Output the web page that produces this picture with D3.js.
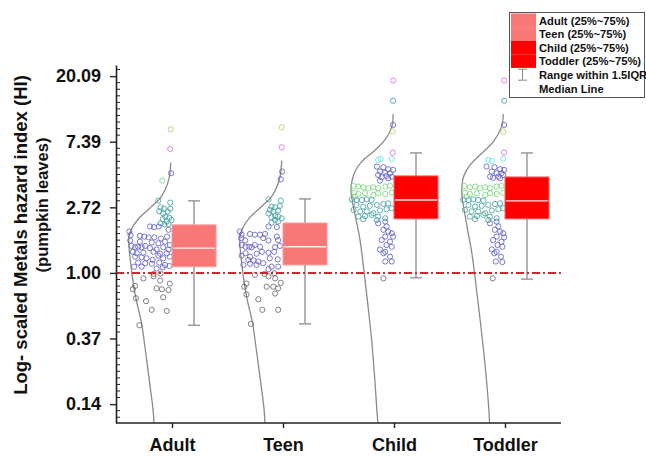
<!DOCTYPE html>
<html><head><meta charset="utf-8">
<script src="https://cdn.jsdelivr.net/npm/d3@7"></script>
<style>body{margin:0;background:#fff;} svg{display:block;font-family:"Liberation Sans",Arial,sans-serif;}</style>
</head><body><svg id="chart" width="646" height="457"></svg>
<script>
// ---------------- DATA ----------------
const categories = ["Adult", "Teen", "Child", "Toddler"];
const q1 = [1.10, 1.13, 2.28, 2.28];
const median = [1.46, 1.49, 3.04, 3.00];
const q3 = [2.08, 2.14, 4.39, 4.32];
const whiskerLow = [0.45, 0.46, 0.93, 0.91];
const whiskerHigh = [3.00, 3.09, 6.23, 6.23];
const yTickExponents = [-2, -1, 0, 1, 2, 3];
const yTickLabels = ["0.14", "0.37", "1.00", "2.72", "7.39", "20.09"];
const referenceValue = 1.0;
const legendLabels = ["Adult (25%~75%)", "Teen (25%~75%)", "Child (25%~75%)", "Toddler (25%~75%)", "Range within 1.5IQR", "Median Line"];
const yTitleLines = ["Log- scaled Metals hazard index (HI)", "(pumpkin leaves)"];

// distribution curves: [value, relative density]
const adultDensity = [[5.37,0.03],[4.13,0.077],[3.20,0.25],[2.68,0.52],[2.30,0.77],[1.98,0.93],[1.74,1.0],[1.49,1.0],[1.22,0.97],[0.855,0.90],[0.66,0.83],[0.467,0.71],[0.309,0.62],[0.187,0.52],[0.124,0.44],[0.1015,0.42]];
const teenDensity = [[5.54,0.03],[4.20,0.08],[3.25,0.25],[2.72,0.52],[2.33,0.77],[2.00,0.93],[1.76,1.0],[1.50,1.0],[1.23,0.97],[0.86,0.90],[0.66,0.83],[0.47,0.71],[0.31,0.62],[0.19,0.52],[0.125,0.44],[0.1015,0.42]];
const childDensity = [[11.29,0.02],[9.30,0.05],[7.59,0.21],[6.35,0.48],[5.46,0.75],[4.68,0.91],[4.02,0.98],[3.54,1.0],[2.89,0.96],[2.24,0.88],[1.65,0.79],[1.10,0.71],[0.66,0.62],[0.36,0.52],[0.186,0.44],[0.106,0.38],[0.1015,0.37]];
const toddlerDensity = [[11.29,0.04],[9.30,0.08],[7.40,0.27],[6.20,0.54],[5.19,0.81],[4.45,0.95],[3.82,1.0],[3.20,1.0],[2.61,0.95],[1.93,0.87],[1.35,0.77],[0.81,0.67],[0.44,0.56],[0.24,0.46],[0.13,0.38],[0.1015,0.36]];

// individual samples: [value, jitter (-1..0 of scatter band), colour group]
const adultPoints = [[8.94,-0.03,"y"],[6.62,-0.04,"m"],[4.57,-0.02,"b"],[4.08,-0.22,"G"],[3.01,-0.31,"t"],[2.92,-0.04,"t"],[2.72,-0.26,"t"],[2.66,-0.18,"t"],[2.56,-0.29,"t"],[2.48,-0.20,"t"],[2.55,-0.10,"t"],[2.66,-0.04,"t"],[2.36,-0.15,"t"],[2.32,-0.06,"t"],[2.24,-0.01,"t"],[2.27,-0.21,"t"],[2.19,-0.12,"t"],[2.13,-0.26,"t"],[2.10,-0.17,"t"],[2.11,-0.08,"t"],
[2.03,-0.50,"b"],[2.01,-0.41,"b"],[2.03,-0.30,"b"],[1.93,-0.08,"b"],[1.88,-0.97,"b"],[1.78,-0.94,"b"],[1.76,-0.73,"b"],[1.74,-0.63,"b"],[1.72,-0.53,"b"],[1.72,-0.40,"b"],[1.69,-0.25,"b"],[1.74,-0.11,"b"],[1.64,-0.95,"b"],[1.61,-0.73,"b"],[1.59,-0.46,"b"],[1.57,-0.31,"b"],[1.61,-0.16,"b"],[1.53,-0.05,"b"],[1.51,-0.92,"b"],[1.48,-0.84,"b"],[1.49,-0.77,"b"],[1.48,-0.69,"b"],[1.51,-0.61,"b"],[1.46,-0.50,"b"],[1.43,-0.35,"b"],[1.48,-0.20,"b"],[1.43,-0.08,"b"],[1.38,-0.89,"b"],[1.35,-0.80,"b"],[1.36,-0.65,"b"],[1.38,-0.42,"b"],[1.34,-0.27,"b"],[1.35,-0.12,"b"],[1.28,-0.84,"b"],[1.27,-0.69,"b"],[1.25,-0.58,"b"],[1.22,-0.44,"b"],[1.30,-0.31,"b"],[1.25,-0.20,"b"],[1.28,-0.05,"b"],[1.17,-0.77,"b"],[1.16,-0.61,"b"],[1.15,-0.46,"b"],[1.17,-0.29,"b"],[1.13,-0.16,"b"],[1.10,-0.86,"b"],[1.10,-0.69,"b"],[1.07,-0.35,"b"],[1.09,-0.21,"b"],[1.11,-0.06,"b"],
[0.985,-0.42,"g"],[0.99,-0.26,"g"],[0.92,-0.65,"g"],[0.95,-0.42,"g"],[0.89,-0.27,"g"],[0.85,-0.05,"g"],[0.82,-0.84,"g"],[0.78,-0.89,"g"],[0.79,-0.35,"g"],[0.78,-0.23,"g"],[0.77,-0.08,"g"],[0.68,-0.82,"g"],[0.69,-0.20,"g"],[0.65,-0.59,"g"],[0.57,-0.46,"g"],[0.56,-0.12,"g"],[0.45,-0.74,"g"]];

const teenPoints = [[9.21,-0.03,"y"],[6.79,-0.03,"m"],[4.69,-0.02,"b"],[4.17,-0.05,"b"],[3.07,-0.33,"t"],[3.01,-0.05,"t"],[2.75,-0.26,"t"],[2.72,-0.18,"t"],[2.78,-0.07,"t"],[2.61,-0.30,"t"],[2.55,-0.22,"t"],[2.59,-0.11,"t"],[2.48,-0.33,"t"],[2.38,-0.18,"t"],[2.34,-0.26,"t"],[2.36,-0.11,"t"],[2.30,-0.03,"t"],[2.24,-0.18,"t"],[2.19,-0.11,"t"],[2.15,-0.26,"t"],
[2.03,-0.33,"b"],[2.01,-0.14,"b"],[1.88,-0.98,"b"],[1.79,-0.94,"b"],[1.81,-0.75,"b"],[1.79,-0.64,"b"],[1.79,-0.52,"b"],[1.81,-0.41,"b"],[1.74,-0.14,"b"],[1.70,-0.95,"b"],[1.64,-0.86,"b"],[1.70,-0.45,"b"],[1.64,-0.33,"b"],[1.65,-0.11,"b"],[1.53,-0.94,"b"],[1.49,-0.85,"b"],[1.49,-0.77,"b"],[1.48,-0.71,"b"],[1.53,-0.64,"b"],[1.49,-0.52,"b"],[1.48,-0.18,"b"],[1.51,-0.07,"b"],[1.30,-0.94,"b"],[1.35,-0.85,"b"],[1.28,-0.75,"b"],[1.34,-0.60,"b"],[1.38,-0.48,"b"],[1.36,-0.33,"b"],[1.38,-0.20,"b"],[1.22,-0.79,"b"],[1.21,-0.67,"b"],[1.19,-0.56,"b"],[1.16,-0.45,"b"],[1.25,-0.30,"b"],[1.23,-0.12,"b"],[1.13,-0.90,"b"],[1.15,-0.75,"b"],[1.13,-0.60,"b"],[1.10,-0.26,"b"],[1.10,-0.11,"b"],[1.06,-0.33,"b"],
[0.97,-0.64,"g"],[0.985,-0.42,"g"],[0.995,-0.20,"g"],[0.95,-0.33,"g"],[0.92,-0.18,"g"],[0.86,-0.05,"g"],[0.85,-0.83,"g"],[0.81,-0.88,"g"],[0.81,-0.37,"g"],[0.81,-0.22,"g"],[0.79,-0.11,"g"],[0.72,-0.83,"g"],[0.73,-0.18,"g"],[0.67,-0.56,"g"],[0.57,-0.47,"g"],[0.57,-0.11,"g"],[0.46,-0.73,"g"]];

const childPoints = [[18.8,-0.02,"m"],[13.8,-0.02,"t"],[9.55,-0.02,"b"],[8.62,-0.03,"y"],[6.26,-0.03,"m"],[5.60,-0.36,"c"],[5.69,-0.30,"c"],[5.69,-0.05,"c"],
[5.06,-0.39,"b"],[5.01,-0.24,"b"],[4.86,-0.13,"b"],[4.81,-0.02,"b"],[4.69,-0.32,"b"],[4.61,-0.20,"b"],[4.57,-0.09,"b"],[4.45,-0.36,"b"],[4.39,-0.17,"b"],[4.34,-0.05,"b"],[4.30,-0.28,"b"],[4.23,-0.13,"b"],[4.08,-0.32,"b"],
[3.77,-0.92,"G"],[3.73,-0.81,"G"],[3.69,-0.70,"G"],[3.64,-0.58,"G"],[3.69,-0.47,"G"],[3.64,-0.36,"G"],[3.73,-0.20,"G"],[3.77,-0.09,"G"],[3.40,-0.90,"G"],[3.33,-0.81,"G"],[3.37,-0.66,"G"],[3.28,-0.47,"G"],[3.37,-0.36,"G"],[3.33,-0.20,"G"],[3.40,-0.05,"G"],[3.20,-0.89,"G"],
[3.07,-0.96,"t"],[3.04,-0.85,"t"],[3.04,-0.73,"t"],[3.07,-0.62,"t"],[3.04,-0.51,"t"],[2.82,-0.85,"t"],[2.75,-0.70,"t"],[2.78,-0.55,"t"],[2.82,-0.39,"t"],[2.86,-0.24,"t"],[2.89,-0.13,"t"],[2.61,-0.92,"t"],[2.55,-0.77,"t"],[2.55,-0.62,"t"],[2.48,-0.47,"t"],[2.59,-0.32,"t"],[2.64,-0.17,"t"],[2.68,-0.05,"t"],[2.36,-0.81,"t"],[2.38,-0.66,"t"],[2.42,-0.51,"t"],[2.36,-0.36,"t"],[2.30,-0.20,"t"],[2.27,-0.70,"t"],[2.24,-0.39,"t"],
[2.13,-0.36,"b"],[2.19,-0.20,"b"],[2.03,-0.17,"b"],[1.93,-0.24,"b"],[1.88,-0.13,"b"],[1.83,-0.05,"b"],[1.74,-0.20,"b"],[1.65,-0.28,"b"],[1.61,-0.09,"b"],[1.74,-0.02,"b"],[1.53,-0.17,"b"],[1.49,-0.05,"b"],[1.43,-0.32,"b"],[1.38,-0.20,"b"],[1.35,-0.24,"b"],[1.28,-0.09,"b"],[1.19,-0.20,"b"],[1.19,-0.05,"b"],
[0.92,-0.24,"g"]];

const toddlerPoints = [[18.8,-0.02,"m"],[13.8,-0.02,"t"],[9.55,-0.02,"b"],[8.62,-0.04,"y"],[6.26,-0.02,"m"],[5.60,-0.38,"c"],[5.51,-0.30,"c"],[5.69,-0.04,"c"],
[5.06,-0.42,"b"],[5.01,-0.24,"b"],[4.86,-0.11,"b"],[4.81,-0.02,"b"],[4.69,-0.30,"b"],[4.57,-0.19,"b"],[4.57,-0.08,"b"],[4.34,-0.34,"b"],[4.34,-0.15,"b"],[4.45,-0.04,"b"],[4.26,-0.27,"b"],[4.23,-0.11,"b"],
[3.77,-0.92,"G"],[3.69,-0.80,"G"],[3.73,-0.68,"G"],[3.64,-0.57,"G"],[3.69,-0.45,"G"],[3.64,-0.34,"G"],[3.73,-0.19,"G"],[3.77,-0.08,"G"],[3.40,-0.91,"G"],[3.33,-0.80,"G"],[3.37,-0.64,"G"],[3.28,-0.45,"G"],[3.37,-0.34,"G"],[3.33,-0.19,"G"],[3.40,-0.04,"G"],[3.20,-0.87,"G"],
[3.04,-0.95,"t"],[3.04,-0.83,"t"],[3.07,-0.72,"t"],[3.04,-0.61,"t"],[3.01,-0.49,"t"],[2.82,-0.83,"t"],[2.75,-0.68,"t"],[2.78,-0.53,"t"],[2.82,-0.38,"t"],[2.86,-0.23,"t"],[2.89,-0.11,"t"],[2.61,-0.91,"t"],[2.55,-0.76,"t"],[2.55,-0.61,"t"],[2.48,-0.45,"t"],[2.59,-0.30,"t"],[2.64,-0.15,"t"],[2.68,-0.04,"t"],[2.36,-0.80,"t"],[2.38,-0.64,"t"],[2.42,-0.49,"t"],[2.36,-0.34,"t"],[2.30,-0.19,"t"],[2.27,-0.68,"t"],[2.24,-0.38,"t"],
[2.13,-0.34,"b"],[2.19,-0.19,"b"],[2.03,-0.15,"b"],[1.93,-0.23,"b"],[1.88,-0.11,"b"],[1.83,-0.04,"b"],[1.74,-0.19,"b"],[1.65,-0.27,"b"],[1.61,-0.08,"b"],[1.72,-0.02,"b"],[1.53,-0.17,"b"],[1.49,-0.06,"b"],[1.43,-0.30,"b"],[1.38,-0.19,"b"],[1.35,-0.24,"b"],[1.28,-0.09,"b"],[1.19,-0.21,"b"],[1.18,-0.06,"b"],
[0.92,-0.28,"g"]];

// ---------------- STYLE / LAYOUT ----------------
const densities = [adultDensity, teenDensity, childDensity, toddlerDensity];
const pointSets = [adultPoints, teenPoints, childPoints, toddlerPoints];
const boxFills = ["#f87777", "#f87777", "#ff0000", "#ff0000"];
const boxStrokes = ["#fb9a9a", "#fb9a9a", "#ff6060", "#ff6060"];
const pointColors = {g:"#6a6a6a", b:"#6262c4", t:"#449f9f", G:"#7ad67a", c:"#66e2ec", m:"#d276d2", y:"#bccb6c"};

const W = 646, H = 457;
const plot = {left:116, right:561, top:65, bottom:423};
const bandW = 44;

const svg = d3.select("#chart");

const x = d3.scalePoint().domain(categories).range([172, 505]);
const y = d3.scaleLog().base(Math.E).domain([0.1015, 23.8]).range([plot.bottom, plot.top]);
const dens = d3.scaleLinear().domain([0, 1]).range([0, 43]);
const jit = d3.scaleLinear().domain([-1, 0]).range([-bandW, 0]);

svg.append("defs").append("clipPath").attr("id","clip")
  .append("rect").attr("x", plot.left).attr("y", 0).attr("width", W - plot.left).attr("height", plot.bottom);

const g = svg.append("g").attr("clip-path","url(#clip)");

// distribution curves
categories.forEach((c, i) => {
  const line = d3.line()
    .x(d => x(c) - dens(d[1]))
    .y(d => y(d[0]))
    .curve(d3.curveCatmullRom.alpha(0.5));
  g.append("path").attr("d", line(densities[i]))
    .attr("fill","none").attr("stroke","#8a8a8a").attr("stroke-width",1.3);
});

// sample points
categories.forEach((c, i) => {
  g.selectAll(null).data(pointSets[i]).enter().append("circle")
    .attr("cx", d => x(c) + jit(d[1]))
    .attr("cy", d => y(d[0]))
    .attr("r", 2.6)
    .attr("fill","none")
    .attr("stroke", d => pointColors[d[2]])
    .attr("stroke-width", 0.85);
});

// boxes
categories.forEach((c, i) => {
  const cx = x(c) + bandW / 2;
  const bg = svg.append("g");
  bg.append("line").attr("x1",cx).attr("x2",cx).attr("y1",y(whiskerLow[i])).attr("y2",y(whiskerHigh[i]))
    .attr("stroke","#9a9a9a").attr("stroke-width",1.5);
  [whiskerLow[i], whiskerHigh[i]].forEach(v => {
    bg.append("line").attr("x1",cx-6).attr("x2",cx+6).attr("y1",y(v)).attr("y2",y(v))
      .attr("stroke","#9a9a9a").attr("stroke-width",1.5);
  });
  bg.append("rect").attr("x", x(c)).attr("y", y(q3[i])).attr("width", bandW).attr("height", y(q1[i]) - y(q3[i]))
    .attr("fill", boxFills[i]).attr("stroke", boxStrokes[i]).attr("stroke-width",1);
  bg.append("line").attr("x1", x(c)+1).attr("x2", x(c)+bandW-1).attr("y1", y(median[i])).attr("y2", y(median[i]))
    .attr("stroke","#ffffff").attr("stroke-width",1.4).attr("opacity",0.9);
});

// reference line
svg.append("line").attr("x1", plot.left).attr("x2", 562).attr("y1", y(referenceValue)).attr("y2", y(referenceValue))
  .attr("stroke","#d42626").attr("stroke-width",2).attr("stroke-dasharray","8,3,2,3");

// axes
const yAxis = d3.axisLeft(y).tickValues(yTickExponents.map(Math.exp))
  .tickFormat((d, i) => yTickLabels[i]).tickSize(6).tickSizeOuter(0).tickPadding(9);
const ya = svg.append("g").attr("transform", `translate(${plot.left},0)`).call(yAxis);
ya.select(".domain").attr("stroke","#222").attr("stroke-width",1.6);
ya.selectAll(".tick line").attr("stroke","#222").attr("stroke-width",1.4);
ya.selectAll(".tick text").attr("font-size","18px").attr("font-weight","bold").attr("fill","#111")
  .attr("font-family",'"Liberation Sans",Arial,sans-serif');

// minor ticks (log scale, 10 per e-interval)
const minor = [];
for (let k = -23; k <= 31; k++) { if (k % 10 !== 0) minor.push(Math.exp(k / 10)); }
svg.append("g").selectAll("line").data(minor.filter(v => y(v) <= plot.bottom && y(v) >= plot.top)).enter().append("line")
  .attr("x1", plot.left).attr("x2", plot.left + 4)
  .attr("y1", d => y(d)).attr("y2", d => y(d))
  .attr("stroke","#222").attr("stroke-width",1);

const xAxis = d3.axisBottom(x).tickSize(5).tickSizeOuter(0).tickPadding(10);
const xa = svg.append("g").attr("transform", `translate(0,${plot.bottom})`).call(xAxis);
xa.select(".domain").remove();
xa.append("line").attr("x1", plot.left).attr("x2", plot.right).attr("y1",0).attr("y2",0)
  .attr("stroke","#222").attr("stroke-width",1.6);
xa.selectAll(".tick line").attr("stroke","#222").attr("stroke-width",1.4);
xa.selectAll(".tick text").attr("font-size","18px").attr("font-weight","bold").attr("fill","#111")
  .attr("font-family",'"Liberation Sans",Arial,sans-serif');

// y title
const titleCenters = [[21, 235], [42, 205]];
const titleSizes = ["18.5px", "16.5px"];
yTitleLines.forEach((t, i) => {
  svg.append("text").attr("transform", `translate(${titleCenters[i][0]},${titleCenters[i][1]}) rotate(-90)`)
    .attr("text-anchor","middle").attr("dy","0.35em")
    .attr("font-size", titleSizes[i]).attr("font-weight","bold").attr("fill","#111")
    .text(t);
});

// legend
const lg = svg.append("g");
lg.append("rect").attr("x",509.5).attr("y",12.5).attr("width",135).attr("height",85)
  .attr("fill","#fff").attr("stroke","#555").attr("stroke-width",1);
const rowH = 13.6;
categories.forEach((c, i) => {
  lg.append("rect").attr("x",511).attr("y",13.5 + i*rowH).attr("width",25).attr("height",rowH)
    .attr("fill", boxFills[i]);
});
legendLabels.forEach((t, i) => {
  lg.append("text").attr("x",539).attr("y", 24.6 + i*rowH).attr("font-size","11.2px").attr("font-weight","bold")
    .attr("fill","#111").text(t);
});
const wy = 13.5 + 4*rowH + rowH/2;
lg.append("line").attr("x1",522.5).attr("x2",522.5).attr("y1",wy-5.5).attr("y2",wy+5.5).attr("stroke","#888").attr("stroke-width",1);
[wy-5.5, wy+5.5].forEach(v => lg.append("line").attr("x1",518).attr("x2",527).attr("y1",v).attr("y2",v).attr("stroke","#888").attr("stroke-width",1));
lg.append("line").attr("x1",511).attr("x2",536).attr("y1",13.5+5*rowH+rowH/2).attr("y2",13.5+5*rowH+rowH/2)
  .attr("stroke","#fff").attr("stroke-width",1.4);
</script></body></html>
